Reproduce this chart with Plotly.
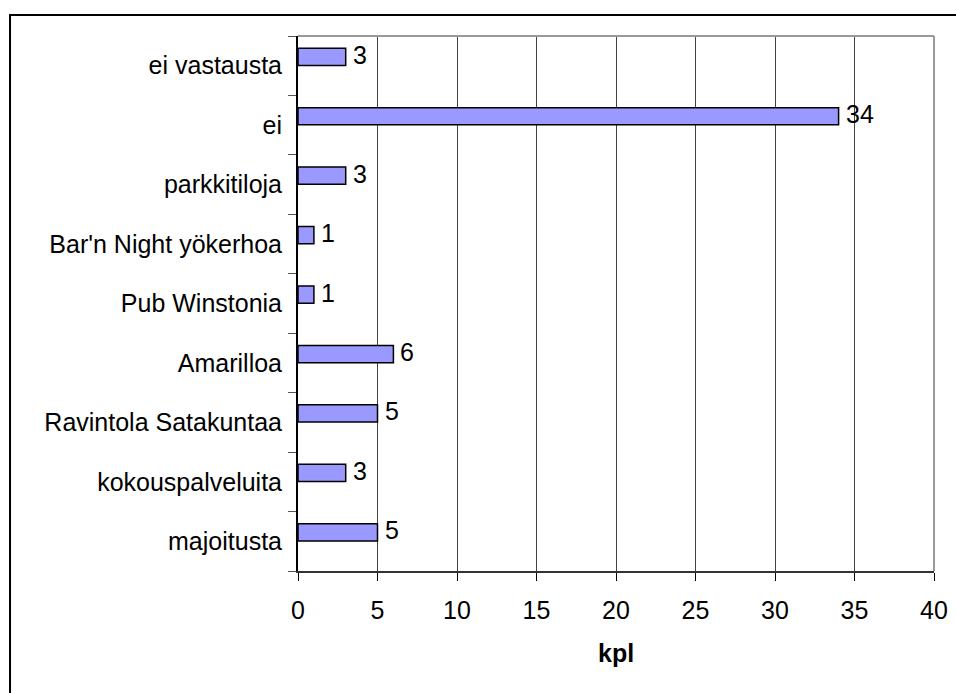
import plotly.graph_objects as go

categories = [
    "majoitusta",
    "kokouspalveluita",
    "Ravintola Satakuntaa",
    "Amarilloa",
    "Pub Winstonia",
    "Bar'n Night yökerhoa",
    "parkkitiloja",
    "ei",
    "ei vastausta",
]
counts = [5, 3, 5, 6, 1, 1, 3, 34, 3]
x_ticks = [0, 5, 10, 15, 20, 25, 30, 35, 40]

FONT = "Liberation Sans, Arial, sans-serif"
FS = 25

# bars sit slightly above the middle of each category band
fig = go.Figure(
    go.Bar(
        y=categories,
        x=counts,
        orientation="h",
        width=0.29,
        offset=0.005,
        marker=dict(color="#9999FF", line=dict(color="#000000", width=1.5)),
        hoverinfo="x+y",
    )
)

# value labels just to the right of each bar
for cat, val in zip(categories, counts):
    fig.add_annotation(
        x=val, y=cat, text=str(val), showarrow=False,
        xanchor="left", yanchor="middle", xshift=5, yshift=11,
        font=dict(family=FONT, size=FS, color="#000000"),
    )

# x-axis title
fig.add_annotation(
    x=0.5, y=-0.153, xref="paper", yref="paper", text="<b>kpl</b>",
    showarrow=False, xanchor="center", yanchor="middle",
    font=dict(family=FONT, size=FS, color="#000000"),
)

fig.update_layout(
    width=956,
    height=693,
    margin=dict(l=298, r=22, t=36, b=122),
    paper_bgcolor="white",
    plot_bgcolor="white",
    showlegend=False,
    font=dict(family=FONT, size=FS, color="#000000"),
    xaxis=dict(
        range=[0, 40],
        tickvals=x_ticks,
        automargin=False,
        showgrid=True,
        gridcolor="#444444",
        gridwidth=1,
        zeroline=False,
        showline=True,
        linecolor="#333333",
        linewidth=2,
        ticks="outside",
        ticklen=8,
        tickcolor="#000000",
        tickfont=dict(size=FS),
        ticklabelstandoff=8,
    ),
    yaxis=dict(
        categoryorder="array",
        categoryarray=categories,
        automargin=False,
        showgrid=False,
        showline=True,
        linecolor="#000000",
        linewidth=2,
        ticks="outside",
        tickson="boundaries",
        ticklen=8,
        tickcolor="#555555",
        tickfont=dict(size=FS),
        ticklabelstandoff=9,
    ),
)

# gray frame on the top and right of the plot area
fig.add_shape(type="line", xref="paper", yref="paper", x0=0, x1=1, y0=1, y1=1,
              line=dict(color="#999999", width=2))
fig.add_shape(type="line", xref="paper", yref="paper", x0=1, x1=1, y0=0, y1=1,
              line=dict(color="#999999", width=2))
# outer chart border (left and top edges)
fig.add_shape(type="rect", xref="paper", yref="paper",
              x0=-0.4528, x1=1.3, y0=-0.5, y1=1.0393,
              line=dict(color="#000000", width=2), layer="below")

fig.write_html("out.html")
